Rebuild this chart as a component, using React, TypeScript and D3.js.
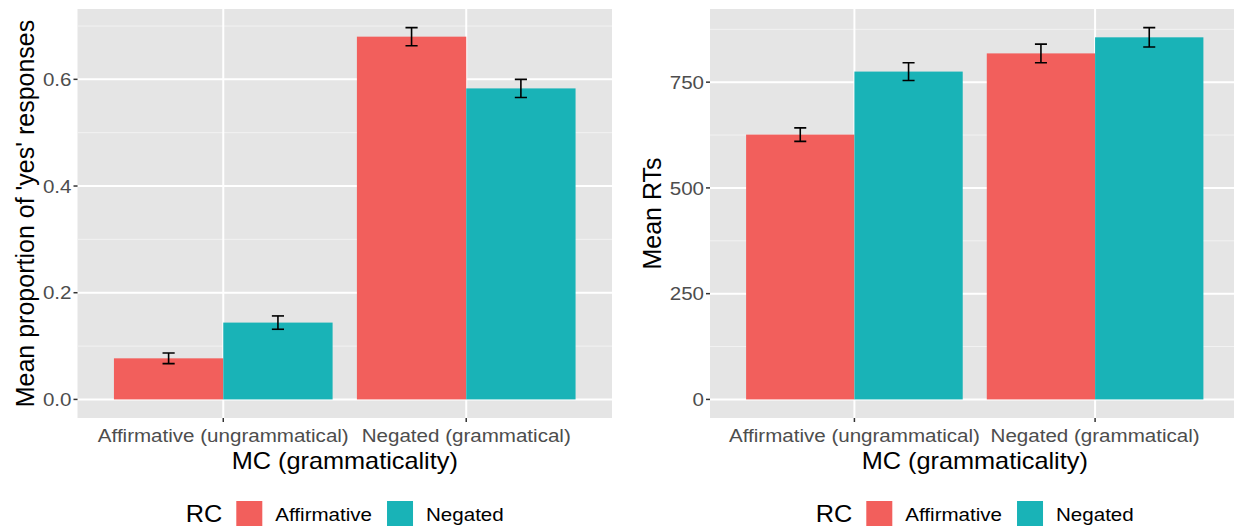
import React from "react";
import * as d3 from "d3";

// ---------- data ----------
const categories = ["Affirmative (ungrammatical)", "Negated (grammatical)"];
const rcLevels = ["Affirmative", "Negated"];
const rcColors = ["#F25F5C", "#19B3B7"];

// proportion of 'yes' responses (per RC level, per MC category)
const propAffirmative = [0.077, 0.68];
const propNegated = [0.144, 0.583];
const propSeAffirmative = [0.01, 0.017];
const propSeNegated = [0.0125, 0.017];
const propTicks = [0, 0.2, 0.4, 0.6];
const propMinor = [0.1, 0.3, 0.5, 0.7];
const propTickLabels = ["0.0", "0.2", "0.4", "0.6"];

// mean RTs
const rtAffirmative = [626, 818];
const rtNegated = [775, 856];
const rtSeAffirmative = [16, 22];
const rtSeNegated = [21, 23];
const rtTicks = [0, 250, 500, 750];
const rtMinor = [125, 375, 625, 875];
const rtTickLabels = ["0", "250", "500", "750"];

const FONT = '"Liberation Sans", Arial, Helvetica, sans-serif';
const SX = 1.1;
const TEXT_SIZE = 18.7;
const TITLE_SIZE = 23;

function measure(text: string, size: number) {
  const c = document.createElement("canvas").getContext("2d");
  if (!c) return text.length * size * 0.55;
  c.font = `${size}px ${FONT}`;
  return c.measureText(text).width;
}

type PanelProps = {
  x0: number;
  x1: number;
  y0: number;
  y1: number;
  means: number[][];
  ses: number[][];
  ticks: number[];
  minor: number[];
  tickLabels: string[];
  yTitle: string;
  yTitleX: number;
};

function Panel(p: PanelProps) {
  const n = categories.length;
  const x = d3.scaleLinear().domain([0.4, n + 0.6]).range([p.x0, p.x1]);
  const uppers = p.means.flatMap((m, s) => m.map((v, i) => v + p.ses[s][i]));
  const hi = d3.max(uppers) as number;
  const lo = 0;
  const pad = (hi - lo) * 0.05;
  const y = d3.scaleLinear().domain([lo - pad, hi + pad]).range([p.y1, p.y0]);
  const barW = 0.45;
  const cap = 0.025;
  const cx = (p.x0 + p.x1) / 2;
  const cy = (p.y0 + p.y1) / 2;
  const clipId = `clip-${Math.round(p.x0)}`;

  // legend layout
  const titleW = measure("RC", TITLE_SIZE) * SX;
  const labW = rcLevels.map((l) => measure(l, TEXT_SIZE) * SX);
  const keyW = 26;
  const keyH = 25;
  const g1 = 14, g2 = 13, g3 = 15;
  const total = titleW + g1 + keyW + g2 + labW[0] + g3 + keyW + g2 + labW[1];
  let lx = cx - total / 2;
  const legendItems: { keyX: number; labX: number }[] = [];
  const titleX = lx;
  lx += titleW + g1;
  rcLevels.forEach((_, i) => {
    const keyX = lx;
    const labX = keyX + keyW + g2;
    legendItems.push({ keyX, labX });
    lx = labX + labW[i] + g3;
  });
  const keyY = 501;

  return (
    <g>
      <defs>
        <clipPath id={clipId}>
          <rect x={p.x0} y={p.y0} width={p.x1 - p.x0} height={p.y1 - p.y0} />
        </clipPath>
      </defs>
      <rect x={p.x0} y={p.y0} width={p.x1 - p.x0} height={p.y1 - p.y0} fill="#E5E5E5" />
      <g clipPath={`url(#${clipId})`}>
        {p.minor.map((v) => (
          <line key={"mi" + v} x1={p.x0} x2={p.x1} y1={y(v)} y2={y(v)} stroke="#F2F2F2" strokeWidth={1} />
        ))}
        {p.ticks.map((v) => (
          <line key={"ma" + v} x1={p.x0} x2={p.x1} y1={y(v)} y2={y(v)} stroke="#fff" strokeWidth={2} />
        ))}
        {categories.map((c, i) => (
          <line key={"vx" + c} x1={x(i + 1)} x2={x(i + 1)} y1={p.y0} y2={p.y1} stroke="#fff" strokeWidth={2} />
        ))}
        {p.means.map((m, s) =>
          m.map((v, i) => {
            const left = i + 1 - barW + s * barW;
            return (
              <rect
                key={`b${s}-${i}`}
                x={x(left)}
                width={x(left + barW) - x(left)}
                y={y(v)}
                height={y(0) - y(v)}
                fill={rcColors[s]}
              />
            );
          })
        )}
        {p.means.map((m, s) =>
          m.map((v, i) => {
            const c = i + 1 - barW / 2 + s * barW;
            const up = v + p.ses[s][i];
            const dn = v - p.ses[s][i];
            return (
              <g key={`e${s}-${i}`} stroke="#000" strokeWidth={1.6} fill="none">
                <line x1={x(c)} x2={x(c)} y1={y(up)} y2={y(dn)} />
                <line x1={x(c - cap)} x2={x(c + cap)} y1={y(up)} y2={y(up)} />
                <line x1={x(c - cap)} x2={x(c + cap)} y1={y(dn)} y2={y(dn)} />
              </g>
            );
          })
        )}
      </g>
      {/* y axis */}
      {p.ticks.map((v, i) => (
        <g key={"yt" + v}>
          <line x1={p.x0 - 4} x2={p.x0} y1={y(v)} y2={y(v)} stroke="#333" strokeWidth={1.5} />
          <text
            transform={`translate(${p.x0 - 6},${y(v)}) scale(${SX},1)`}
            textAnchor="end"
            dy="0.36em"
            fontSize={TEXT_SIZE}
            fill="#4D4D4D"
            fontFamily={FONT}
          >
            {p.tickLabels[i]}
          </text>
        </g>
      ))}
      {/* x axis */}
      {categories.map((c, i) => (
        <g key={"xt" + c}>
          <line x1={x(i + 1)} x2={x(i + 1)} y1={p.y1} y2={p.y1 + 4} stroke="#333" strokeWidth={1.5} />
          <text
            transform={`translate(${x(i + 1)},${442}) scale(${SX},1)`}
            textAnchor="middle"
            fontSize={TEXT_SIZE}
            fill="#4D4D4D"
            fontFamily={FONT}
          >
            {c}
          </text>
        </g>
      ))}
      <text
        transform={`translate(${cx},${469}) scale(${SX},1)`}
        textAnchor="middle"
        fontSize={TITLE_SIZE}
        fill="#000"
        fontFamily={FONT}
      >
        MC (grammaticality)
      </text>
      <text
        transform={`translate(${p.yTitleX},${cy}) rotate(-90)`}
        textAnchor="middle"
        fontSize={25}
        fill="#000"
        fontFamily={FONT}
      >
        {p.yTitle}
      </text>
      {/* legend */}
      <text
        transform={`translate(${titleX},${522}) scale(${SX},1)`}
        fontSize={TITLE_SIZE}
        fill="#000"
        fontFamily={FONT}
      >
        RC
      </text>
      {rcLevels.map((l, i) => (
        <g key={"lg" + l}>
          <rect x={legendItems[i].keyX} y={keyY} width={keyW} height={keyH} fill={rcColors[i]} />
          <text
            transform={`translate(${legendItems[i].labX},${520.5}) scale(${SX},1)`}
            fontSize={TEXT_SIZE}
            fill="#000"
            fontFamily={FONT}
          >
            {l}
          </text>
        </g>
      ))}
    </g>
  );
}

export default function App() {
  return (
    <svg
      width={1234}
      height={527}
      style={{ position: "absolute", left: 0, top: 0, display: "block", background: "#fff" }}
    >
      <rect x={0} y={0} width={1234} height={527} fill="#fff" />
      <Panel
        x0={77.5}
        x1={612}
        y0={9}
        y1={418}
        means={[propAffirmative, propNegated]}
        ses={[propSeAffirmative, propSeNegated]}
        ticks={propTicks}
        minor={propMinor}
        tickLabels={propTickLabels}
        yTitle="Mean proportion of 'yes' responses"
        yTitleX={34}
      />
      <Panel
        x0={710}
        x1={1239.5}
        y0={9}
        y1={418}
        means={[rtAffirmative, rtNegated]}
        ses={[rtSeAffirmative, rtSeNegated]}
        ticks={rtTicks}
        minor={rtMinor}
        tickLabels={rtTickLabels}
        yTitle="Mean RTs"
        yTitleX={661}
      />
    </svg>
  );
}
